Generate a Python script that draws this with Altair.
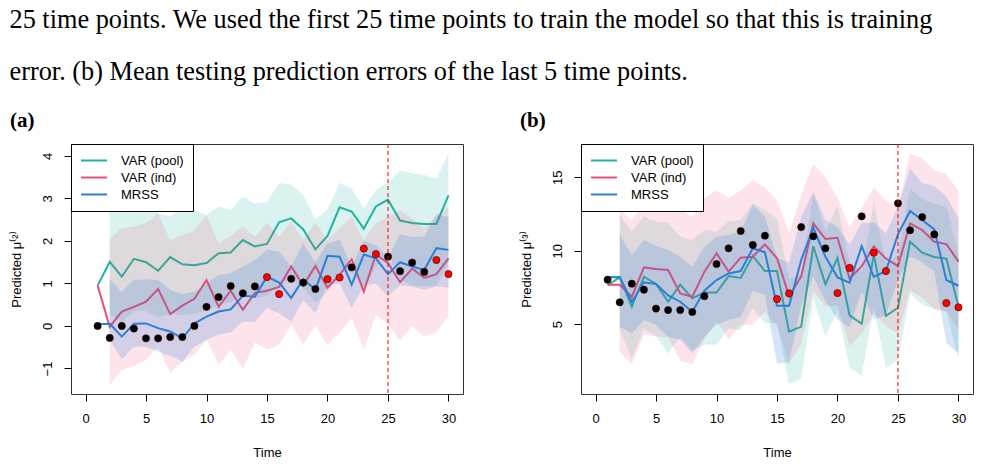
import altair as alt
import pandas as pd

# ---------------------------------------------------------------- data
t_all = list(range(1, 31))
t_band = list(range(2, 31))
test_times = [15, 16, 20, 21, 23, 24, 29, 30]

models = ["VAR (pool)", "VAR (ind)", "MRSS"]
line_colors = ["#1DB5A0", "#EE4A72", "#2B7FD6"]
band_opacity = [0.16, 0.15, 0.20]

# panel (a): observed mu^(2) and predictions
a_obs = [0.00, -0.28, 0.00, -0.06, -0.29, -0.29, -0.26, -0.26, 0.00, 0.45,
         0.68, 0.94, 0.77, 0.93, 1.15, 0.75, 1.11, 1.02, 0.87, 1.10,
         1.14, 1.38, 1.82, 1.69, 1.63, 1.29, 1.49, 1.27, 1.55, 1.22]
a_pool = [0.95, 1.51, 1.16, 1.58, 1.50, 1.30, 1.62, 1.45, 1.43, 1.48,
          1.71, 1.73, 2.02, 1.87, 1.93, 2.44, 2.53, 2.27, 1.80, 2.12,
          2.79, 2.69, 2.29, 2.81, 2.97, 2.48, 2.42, 2.40, 2.40, 3.07]
a_ind = [0.95, -0.02, 0.34, 0.45, 0.57, 0.87, 0.28, 0.48, 0.64, 1.08,
         0.45, 0.83, 0.38, 0.78, 0.83, 0.92, 1.40, 0.95, 1.41, 0.90,
         1.20, 1.57, 0.81, 1.68, 1.48, 1.03, 1.35, 1.13, 1.22, 1.59]
a_mrss = [0.04, 0.05, -0.25, 0.05, 0.06, -0.05, -0.13, -0.29, 0.06, 0.22,
          0.34, 0.39, 0.71, 0.69, 1.16, 1.02, 0.66, 1.10, 0.85, 1.65,
          1.63, 0.97, 1.68, 1.59, 1.22, 1.50, 1.40, 1.32, 1.83, 1.79]
# interval bounds, t = 2..30
a_pool_hi = [2.85, 2.69, 2.81, 2.88, 2.65, 2.57, 2.81, 2.72, 2.61, 2.81,
             2.73, 3.04, 2.88, 2.92, 3.36, 3.32, 3.08, 2.51, 2.73, 3.37,
             3.22, 2.77, 3.20, 3.38, 3.66, 3.59, 3.55, 3.47, 4.05]
a_pool_lo = [0.25, 0.10, 0.35, 0.35, 0.20, 0.30, 0.25, 0.30, 0.35, 0.50,
             0.55, 0.75, 0.65, 0.70, 1.00, 1.10, 0.90, 0.55, 0.80, 1.30,
             1.25, 0.90, 1.40, 1.75, 1.10, 0.95, 0.93, 0.95, 1.50]
a_ind_hi = [2.06, 2.30, 2.34, 2.43, 2.65, 2.02, 2.14, 2.25, 2.61, 1.94,
            2.12, 2.34, 2.10, 2.42, 2.10, 2.46, 2.02, 2.42, 2.02, 2.30,
            2.57, 2.02, 2.42, 2.57, 2.73, 2.53, 2.30, 2.61, 2.81]
a_ind_lo = [-1.39, -1.04, -0.94, -0.80, -0.49, -1.10, -0.84, -0.68, -0.31, -0.92,
            -0.56, -1.00, -0.39, -0.56, -0.44, 0.03, -0.44, 0.01, -0.45, -0.15,
            0.18, -0.56, 0.26, 0.05, -0.35, 0.00, -0.25, -0.15, 0.24]
a_mrss_hi = [1.10, 0.80, 1.08, 1.10, 1.08, 0.85, 0.75, 0.80, 1.00, 1.20,
             1.24, 1.40, 1.55, 1.79, 1.75, 1.40, 1.94, 1.50, 1.94, 2.02,
             1.40, 2.00, 1.90, 1.60, 2.16, 2.10, 2.10, 2.61, 2.57]
a_mrss_lo = [-0.33, -0.78, -0.49, -0.49, -0.60, -0.70, -0.84, -0.49, -0.33, -0.20,
             -0.15, 0.10, 0.10, 0.42, 0.30, 0.10, 0.61, 0.30, 0.95, 1.00,
             0.42, 0.95, 1.00, 0.70, 0.95, 0.93, 0.85, 0.93, 0.90]

# panel (b): observed mu^(3) and predictions
b_obs = [8.02, 6.48, 7.75, 7.34, 6.05, 5.95, 5.95, 5.82, 6.90, 9.09,
         10.16, 11.34, 10.39, 11.02, 6.70, 7.09, 11.61, 10.98, 10.16, 7.11,
         8.82, 12.34, 9.86, 8.61, 13.23, 11.39, 12.29, 11.11, 6.43, 6.14]
b_pool = [7.64, 8.18, 6.18, 8.23, 7.73, 6.52, 7.68, 6.75, 7.14, 7.14,
          8.27, 8.14, 9.64, 8.61, 8.61, 4.48, 4.82, 10.30, 7.71, 9.50,
          5.59, 5.02, 9.73, 5.55, 6.11, 10.61, 9.86, 9.57, 9.45, 6.20]
b_ind = [7.68, 7.68, 6.86, 8.86, 8.75, 8.68, 7.09, 6.86, 8.57, 9.82,
         8.57, 9.52, 9.59, 10.43, 9.48, 6.90, 8.24, 11.86, 10.79, 10.88,
         8.10, 8.94, 10.30, 9.46, 8.94, 11.86, 11.40, 10.61, 10.45, 9.25]
b_mrss = [8.18, 8.20, 6.52, 7.84, 7.73, 6.95, 6.52, 5.84, 7.27, 8.00,
          8.45, 8.61, 10.16, 9.89, 6.25, 6.25, 9.36, 11.56, 9.59, 8.18,
          7.82, 10.30, 8.22, 8.61, 11.13, 12.70, 12.09, 11.45, 8.00, 7.61]
# interval bounds, t = 2..30
b_pool_hi = [12.44, 11.30, 12.32, 11.98, 11.90, 10.95, 10.73, 11.41, 11.30, 11.98,
             12.09, 13.23, 12.77, 12.20, 8.10, 8.40, 13.90, 11.30, 13.10, 9.20,
             8.60, 13.30, 9.15, 9.70, 14.20, 13.50, 13.20, 13.00, 9.80]
b_pool_lo = [4.63, 2.63, 4.68, 4.18, 2.97, 4.13, 3.20, 3.59, 3.59, 4.72,
             4.59, 6.09, 5.06, 5.06, 0.93, 1.27, 6.75, 4.16, 5.95, 2.04,
             1.47, 6.18, 2.00, 2.56, 7.06, 6.31, 6.02, 5.90, 2.65]
b_ind_hi = [12.80, 12.10, 13.20, 13.30, 13.40, 12.80, 12.30, 13.60, 14.10, 13.60,
            14.10, 14.80, 14.30, 13.40, 11.20, 13.80, 15.90, 15.00, 13.60, 11.60,
            12.90, 14.30, 13.40, 13.00, 16.60, 16.30, 15.50, 15.20, 14.10]
b_ind_lo = [3.08, 2.26, 4.26, 4.15, 4.08, 2.49, 2.26, 3.97, 5.22, 3.97,
            4.92, 4.99, 5.83, 4.88, 2.30, 3.64, 7.26, 6.19, 6.28, 3.50,
            4.34, 5.70, 4.86, 4.34, 7.26, 6.80, 6.01, 5.85, 4.65]
b_mrss_hi = [11.06, 9.70, 10.73, 10.32, 10.05, 9.59, 8.91, 10.27, 10.95, 11.06,
             11.30, 13.11, 12.32, 9.50, 9.20, 12.30, 14.00, 12.10, 11.60, 10.40,
             11.90, 11.90, 11.20, 13.00, 15.60, 14.60, 14.40, 13.70, 12.20]
b_mrss_lo = [4.82, 4.36, 5.27, 4.93, 4.14, 3.91, 3.00, 4.14, 4.93, 5.27,
             5.50, 7.26, 7.00, 2.30, 2.40, 6.30, 8.20, 6.60, 5.30, 4.80,
             7.20, 5.30, 5.60, 8.00, 9.60, 9.20, 8.60, 3.70, 3.00]

x_ticks = [0, 5, 10, 15, 20, 25, 30]

FONT = "Liberation Sans"
# short horizontal stroke for the legend keys, starting at the key's left edge
LEGEND_KEY = "M-1,0H3"


def panel(obs, lines, bands, y_domain, y_ticks, y_title, label):
    lines_df = pd.concat(
        [pd.DataFrame({"t": t_all, "value": v, "model": m}) for m, v in zip(models, lines)],
        ignore_index=True)
    bands_df = pd.concat(
        [pd.DataFrame({"t": t_band, "lo": lo, "hi": hi, "model": m})
         for m, (lo, hi) in zip(models, bands)],
        ignore_index=True)
    obs_df = pd.DataFrame({
        "t": t_all, "value": obs,
        "set": ["test" if t in test_times else "train" for t in t_all]})

    x = alt.X("t:Q", scale=alt.Scale(domain=[-1.2, 31.2], nice=False, zero=False),
              axis=alt.Axis(values=x_ticks, title="Time"))
    y_scale = alt.Scale(domain=y_domain, nice=False, zero=False)
    y_axis = alt.Axis(values=y_ticks, title=y_title)

    layers = []
    for i, m in enumerate(models):
        band = (alt.Chart(bands_df)
                .transform_filter(alt.datum.model == m)
                .mark_area(color=line_colors[i], fillOpacity=band_opacity[i])
                .encode(x=x, y=alt.Y("lo:Q", scale=y_scale, axis=y_axis), y2="hi:Q"))
        line = (alt.Chart(lines_df)
                .transform_filter(alt.datum.model == m)
                .mark_line(strokeWidth=2)
                .encode(x=x, y=alt.Y("value:Q", scale=y_scale, axis=y_axis),
                        color=alt.Color("model:N",
                                        scale=alt.Scale(domain=models, range=line_colors),
                                        legend=alt.Legend(title=None))))
        layers += [band, line]

    points = (alt.Chart(obs_df)
              .mark_circle(size=52, opacity=1, stroke="#3a0000", strokeWidth=0.6)
              .encode(x=x, y=alt.Y("value:Q", scale=y_scale, axis=y_axis),
                      fill=alt.Fill("set:N",
                                    scale=alt.Scale(domain=["train", "test"], range=["black", "red"]),
                                    legend=None)))
    split = (alt.Chart(pd.DataFrame({"t": [25]}))
             .mark_rule(color="red", strokeDash=[4, 3], strokeWidth=1)
             .encode(x="t:Q"))

    return alt.layer(*layers, points, split).properties(
        width=392, height=250,
        title=alt.TitleParams(label, anchor="start", font="Liberation Serif",
                              fontSize=21, fontWeight="bold", offset=13))


left = panel(a_obs, [a_pool, a_ind, a_mrss],
             [(a_pool_lo, a_pool_hi), (a_ind_lo, a_ind_hi), (a_mrss_lo, a_mrss_hi)],
             [-1.60, 4.28], [-1, 0, 1, 2, 3, 4], "Predicted \u03bc\u207d\u00b2\u207e", "(a)")
right = panel(b_obs, [b_pool, b_ind, b_mrss],
              [(b_pool_lo, b_pool_hi), (b_ind_lo, b_ind_hi), (b_mrss_lo, b_mrss_hi)],
              [0.23, 17.27], [5, 10, 15], "Predicted \u03bc\u207d\u00b3\u207e", "(b)")

caption = ["25 time points. We used the first 25 time points to train the model so that this is training",
           "error. (b) Mean testing prediction errors of the last 5 time points."]

chart = (alt.hconcat(left, right, spacing=55)
         .resolve_scale(color="independent")
         .resolve_legend(color="independent")
         .properties(
             title=alt.TitleParams(caption, anchor="start", font="Liberation Serif",
                                   fontSize=26.3, fontWeight="normal", lineHeight=52,
                                   color="black", offset=24),
             padding={"left": 9, "top": 6, "right": 5, "bottom": 5})
         .configure_view(stroke="#333333", strokeWidth=1)
         .configure_axis(domain=False, grid=False, tickSize=7, tickColor="black",
                         labelFont=FONT, labelFontSize=13, labelColor="black",
                         titleFont=FONT, titleFontSize=13, titleFontWeight="normal",
                         titleColor="black")
         .configure_axisX(labelPadding=11, titlePadding=21)
         .configure_axisY(labelAngle=270, labelAlign="center", labelBaseline="bottom",
                          labelPadding=10, titlePadding=18)
         .configure_legend(orient="top-left", offset=0, strokeColor="black", fillColor="white",
                           padding=9, symbolType=LEGEND_KEY, symbolStrokeWidth=2,
                           symbolSize=169, labelFont=FONT, labelFontSize=13,
                           labelColor="black", labelOffset=26, rowPadding=2,
                           cornerRadius=0))

chart.save("out.html", embed_options={"renderer": "svg", "actions": False})
